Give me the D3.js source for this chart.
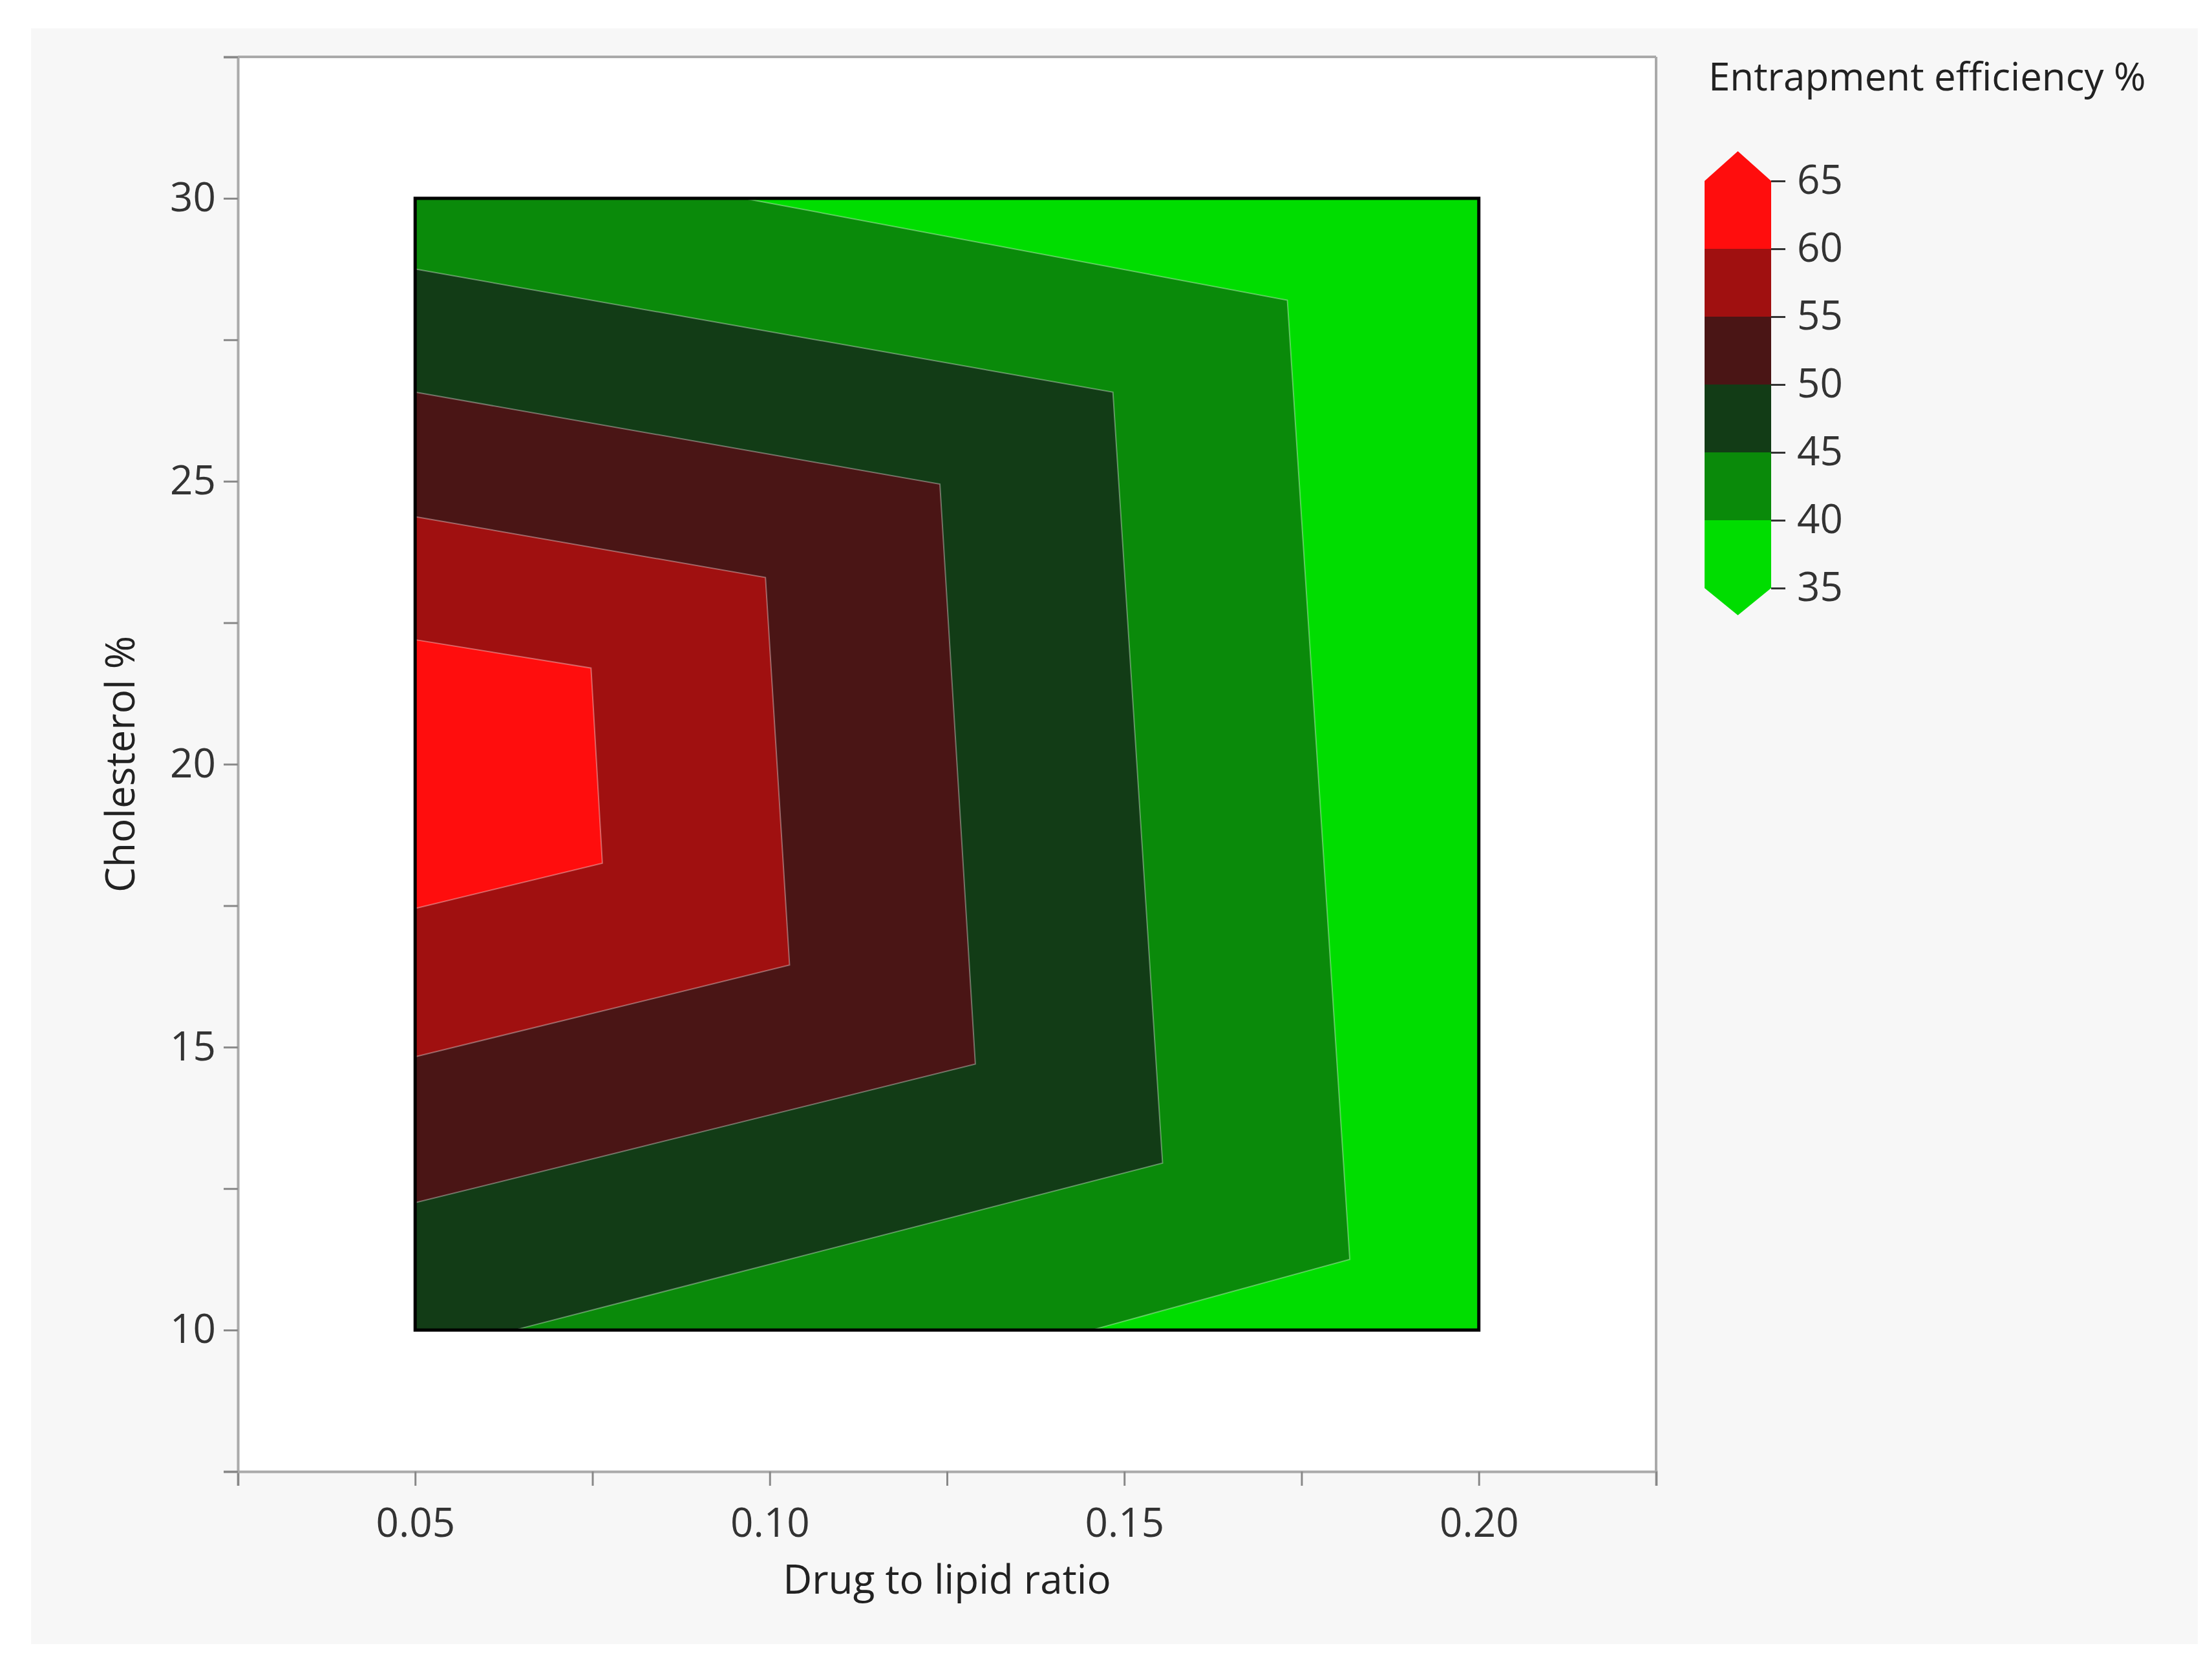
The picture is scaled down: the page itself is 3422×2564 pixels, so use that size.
<!DOCTYPE html>
<html><head><meta charset="utf-8">
<script src="https://cdn.jsdelivr.net/npm/d3@7"></script>
<style>body{margin:0;background:#fff}svg{display:block}</style></head>
<body><script>
const levels=[35,40,45,50,55,60,65];
const bandColors=["#00dd00","#0a8a0a","#123c16","#4a1515","#a01010","#ff0d0d"];
// region polygons (value >= level) in data coords [x,y]
const region40=[[0.05,30],[0.0964,30],[0.173,28.2],[0.1818,11.25],[0.1454,10],[0.05,10]];
const region45=[[0.05,28.75],[0.1484,26.575],[0.1554,12.95],[0.064,10],[0.05,10]];
const region50=[[0.05,26.575],[0.124,24.95],[0.129,14.7],[0.05,12.25]];
const region55=[[0.05,24.375],[0.0994,23.3],[0.1028,16.45],[0.05,14.83]];
const region60=[[0.05,22.2],[0.0748,21.7],[0.0764,18.25],[0.05,17.45]];
const regions=[region40,region45,region50,region55,region60];
const xTicks=[0.05,0.10,0.15,0.20];
const yTicks=[10,15,20,25,30];
const W=3422,H=2564,F="'Open Sans',sans-serif";
const svg=d3.select("body").append("svg").attr("width",W).attr("height",H);
svg.append("rect").attr("x",48).attr("y",44).attr("width",3352).attr("height",2500).attr("fill","#f7f7f7");
const L=368,R=2562,T=88,B=2277;
const x=d3.scaleLinear().domain([0.025,0.225]).range([L,R]);
const y=d3.scaleLinear().domain([7.5,32.5]).range([B,T]);
svg.append("rect").attr("x",L).attr("y",T).attr("width",R-L).attr("height",B-T).attr("fill","#fff");
// data area
svg.append("rect").attr("x",x(0.05)).attr("y",y(30)).attr("width",x(0.2)-x(0.05)).attr("height",y(10)-y(30)).attr("fill",bandColors[0]);
const line=d3.line().x(d=>x(d[0])).y(d=>y(d[1]));
regions.forEach((r,i)=>svg.append("path").attr("d",line(r)+"Z").attr("fill",bandColors[i+1]).attr("stroke","rgba(255,255,255,0.35)").attr("stroke-width",2));
svg.append("rect").attr("x",x(0.05)).attr("y",y(30)).attr("width",x(0.2)-x(0.05)).attr("height",y(10)-y(30)).attr("fill","none").attr("stroke","#000").attr("stroke-width",5);
// axes
const xa=svg.append("g").attr("transform",`translate(0,${B})`).call(d3.axisBottom(x).tickValues(d3.range(0.025,0.2251,0.025)).tickFormat(d=>xTicks.some(t=>Math.abs(t-d)<1e-9)?d3.format(".2f")(d):"").tickSize(22).tickPadding(36));
const ya=svg.append("g").attr("transform",`translate(${L},0)`).call(d3.axisLeft(y).tickValues(d3.range(7.5,32.51,2.5)).tickFormat(d=>yTicks.includes(d)?d:"").tickSize(22).tickPadding(12));
[xa,ya].forEach(g=>{g.selectAll("path").attr("stroke","#aaa").attr("stroke-width",4);g.selectAll("line").attr("stroke","#888").attr("stroke-width",3);g.selectAll("text").attr("font-family",F).attr("font-size",62).attr("fill","#333");});
xa.selectAll("text").attr("dy","0.7em");
svg.append("line").attr("x1",L).attr("x2",R).attr("y1",T).attr("y2",T).attr("stroke","#aaa").attr("stroke-width",4);
svg.append("line").attr("x1",R).attr("x2",R).attr("y1",T).attr("y2",B).attr("stroke","#aaa").attr("stroke-width",4);
svg.append("text").attr("x",(x(0.05)+x(0.2))/2).attr("y",2466).attr("text-anchor","middle").attr("font-family",F).attr("font-size",62).attr("fill","#222").text("Drug to lipid ratio");
svg.append("text").attr("transform",`translate(208,${y(20)}) rotate(-90)`).attr("text-anchor","middle").attr("font-family",F).attr("font-size",62).attr("fill","#222").text("Cholesterol %");
// legend
svg.append("text").attr("x",2643).attr("y",140).attr("font-family",F).attr("font-size",60).attr("fill","#222").text("Entrapment efficiency %");
const ly=d3.scaleLinear().domain([35,65]).range([910,280]);
const bx0=2637,bx1=2740,bm=(bx0+bx1)/2;
for(let i=0;i<6;i++){
  let y0=ly(levels[i]),y1=ly(levels[i+1]);
  let pts=[[bx0,y1],[bx1,y1],[bx1,y0],[bx0,y0]];
  if(i==5) pts=[[bx0,y1],[bm,y1-46],[bx1,y1],[bx1,y0],[bx0,y0]];
  if(i==0) pts=[[bx0,y1],[bx1,y1],[bx1,y0],[bm,y0+42],[bx0,y0]];
  svg.append("polygon").attr("points",pts.map(p=>p.join(",")).join(" ")).attr("fill",bandColors[i]);
}
const lg=svg.append("g").attr("transform",`translate(${bx1},0)`).call(d3.axisRight(ly).tickValues(levels).tickSize(22).tickPadding(18));
lg.select("path").remove();
lg.selectAll("line").attr("stroke","#333").attr("stroke-width",3);
lg.selectAll("text").attr("font-family",F).attr("font-size",62).attr("fill","#333");
</script></body></html>
